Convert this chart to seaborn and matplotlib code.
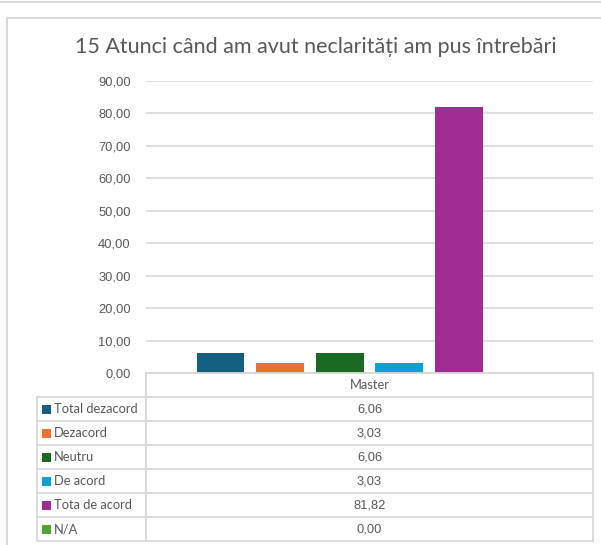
import pandas as pd
import matplotlib.pyplot as plt
import seaborn as sns
from matplotlib.patches import Rectangle

# Data
grupa = "Master"
categorii = ["Total dezacord", "Dezacord", "Neutru", "De acord", "Tota de acord", "N/A"]
valori = [6.06, 3.03, 6.06, 3.03, 81.82, 0.00]
culori = ["#156082", "#E97132", "#196B24", "#0F9ED5", "#A02B93", "#4EA72E"]
y_ticks = [0, 10, 20, 30, 40, 50, 60, 70, 80, 90]
titlu = "15 Atunci când am avut neclarități am pus întrebări"

df = pd.DataFrame({"grupa": grupa, "categorie": categorii, "valoare": valori})

sns.set_style("white")
plt.rcParams['font.family'] = ['Lato', 'DejaVu Sans']

W, H = 601, 545
GRAY = "#595959"
LINE = "#D9D9D9"

fig = plt.figure(figsize=(W / 100, H / 100), dpi=100)

# plot area in pixel terms
px_l, px_r, px_t, px_b = 146, 593, 80.7, 373
ax = fig.add_axes([px_l / W, 1 - px_b / H, (px_r - px_l) / W, (px_b - px_t) / H])

sns.barplot(data=df, x="grupa", y="valoare", hue="categorie", hue_order=categorii,
            palette=culori, width=0.8, gap=0.2, legend=False, ax=ax,
            saturation=1, edgecolor="none")

ax.set_ylim(0, 90)
ax.set_xlim(-0.5, 0.5)
ax.set_yticks(y_ticks)
ax.set_yticklabels([f"{v:.2f}".replace(".", ",") for v in y_ticks],
                   color=GRAY, fontsize=9.3, family=['Liberation Sans', 'DejaVu Sans'])
ax.tick_params(axis="y", length=0, pad=11)
ax.set_xticks([])
ax.set_xlabel("")
ax.set_ylabel("")
ax.yaxis.grid(True, color=LINE, linewidth=1.2)
ax.set_axisbelow(True)
for s in ax.spines.values():
    s.set_visible(False)

# overlay axes in pixel coordinates for frame and data table
tax = fig.add_axes([0, 0, 1, 1])
tax.set_xlim(0, W)
tax.set_ylim(H, 0)
tax.axis("off")
tax.patch.set_alpha(0)

# outer frame bits
tax.plot([0, W], [2, 2], color=LINE, lw=1.5)
tax.plot([7, W], [18, 18], color=LINE, lw=1.5)
tax.plot([7, 7], [18, H], color=LINE, lw=1.5)

fig.text(316 / W, 1 - 47 / H, titlu, ha="center", va="center", fontsize=15.5, color=GRAY)

# data table
t_left, t_mid, t_right = 37, 146, 593
row_h = 24
top = 373
n = len(categorii)
bottom = top + row_h * (n + 1)
tax.plot([t_mid, t_right], [top, top], color=LINE, lw=1.3)
for i in range(1, n + 2):
    y = top + row_h * i
    tax.plot([t_left, t_right], [y, y], color=LINE, lw=1.3)
tax.plot([t_left, t_left], [top + row_h, bottom], color=LINE, lw=1.3)
tax.plot([t_mid, t_mid], [top, bottom], color=LINE, lw=1.3)
tax.plot([t_right, t_right], [top, bottom], color=LINE, lw=1.3)

cx = (t_mid + t_right) / 2
tax.text(cx, top + row_h / 2, grupa, ha="center", va="center", fontsize=9.3, color=GRAY)
for i, (cat, val, col) in enumerate(zip(categorii, valori, culori)):
    yc = top + row_h * (i + 1.5)
    tax.add_patch(Rectangle((t_left + 5, yc - 4.5), 9, 9, color=col, lw=0))
    tax.text(t_left + 17, yc, cat, ha="left", va="center", fontsize=9.3, color=GRAY)
    tax.text(cx, yc, f"{val:.2f}".replace(".", ","), ha="center", va="center",
             fontsize=9.3, color=GRAY, family=['Liberation Sans', 'DejaVu Sans'])

fig.savefig("out.png", dpi=100)
